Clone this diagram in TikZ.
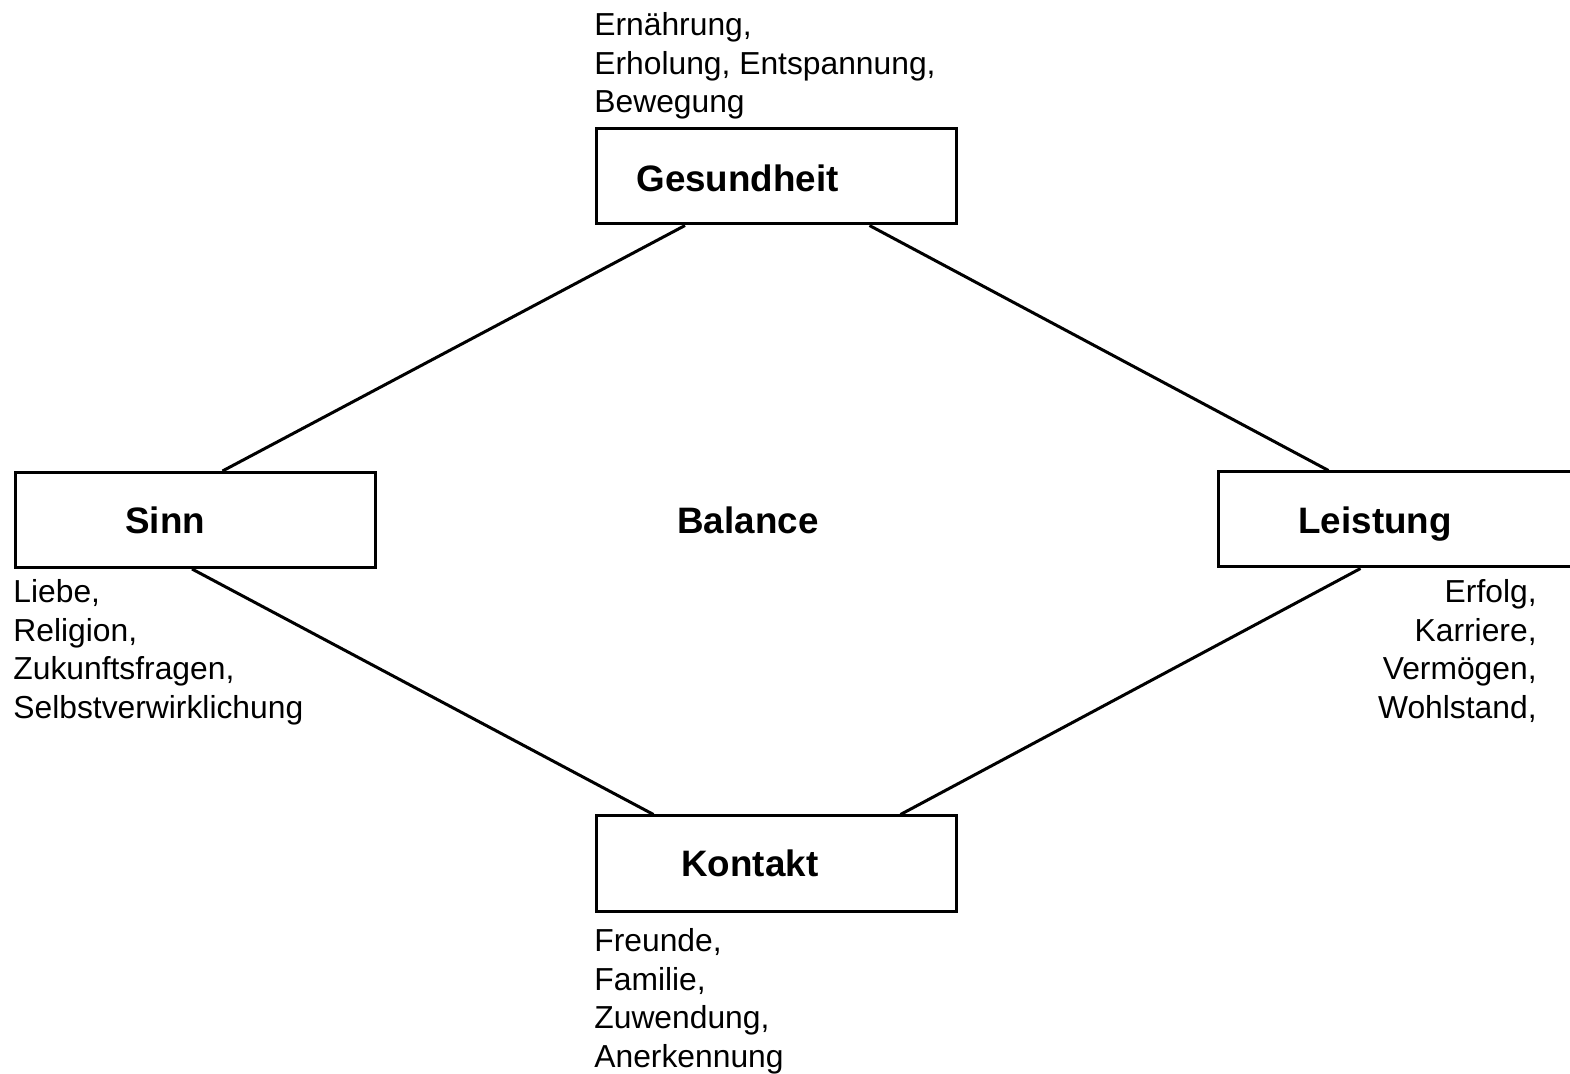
\documentclass[tikz,border=0pt]{standalone}
\usepackage{fontspec}
\setmainfont{Liberation Sans}
\usetikzlibrary{calc}

\begin{document}
\begin{tikzpicture}[x=0.5pt,y=-0.5pt,
  feld/.style={draw,line width=1.5pt,minimum width=180pt,minimum height=47.5pt,inner sep=0pt},
  titel/.style={anchor=base west,inner sep=0pt,font=\fontsize{18.4}{22}\selectfont\bfseries},
  liste/.style={anchor=north west,inner sep=0pt,align=left,font=\fontsize{15.9}{19.3}\selectfont},
  verb/.style={line width=1.5pt}]
\useasboundingbox (0,0) rectangle (1570,1074);
\clip (0,0) rectangle (1570,1074);
\node[feld] (gesund) at (776.5,176.5) {};
\node[feld] (sinn) at (195,520) {};
\node[feld] (leist) at (1398.5,519.5) {};
\node[feld] (kont) at (776.5,863.5) {};
\node[titel] (tgesund) at (636,192) {Gesundheit};
\node[titel] (tsinn) at (125,534) {Sinn};
\node[titel] (tbalance) at (677,534) {Balance};
\node[titel] (tleist) at (1298,534) {Leistung};
\node[titel] (tkont) at (681,877) {Kontakt};
\node[liste] (lgesund) at (594,8) {\strut Ernährung,\\Erholung, Entspannung,\\Bewegung};
\node[liste] (lsinn) at (13,575) {\strut Liebe,\\Religion,\\Zukunftsfragen,\\Selbstverwirklichung};
\node[liste,anchor=north east,align=right] (lleist) at (1537,575) {\strut Erfolg,\\Karriere,\\Vermögen,\\Wohlstand,};
\node[liste] (lkont) at (594,924) {\strut Freunde,\\Familie,\\Zuwendung,\\Anerkennung};
\draw[verb] ($(gesund.south west)+(90,0)$) -- ($(sinn.north west)+(209,0)$);
\draw[verb] ($(gesund.south east)+(-88.5,0)$) -- ($(leist.north west)+(111.5,0)$);
\draw[verb] ($(sinn.south west)+(178.5,0)$) -- ($(kont.north west)+(58.5,0)$);
\draw[verb] ($(leist.south west)+(143.5,0)$) -- ($(kont.north east)+(-57.5,0)$);
\end{tikzpicture}
\end{document}
